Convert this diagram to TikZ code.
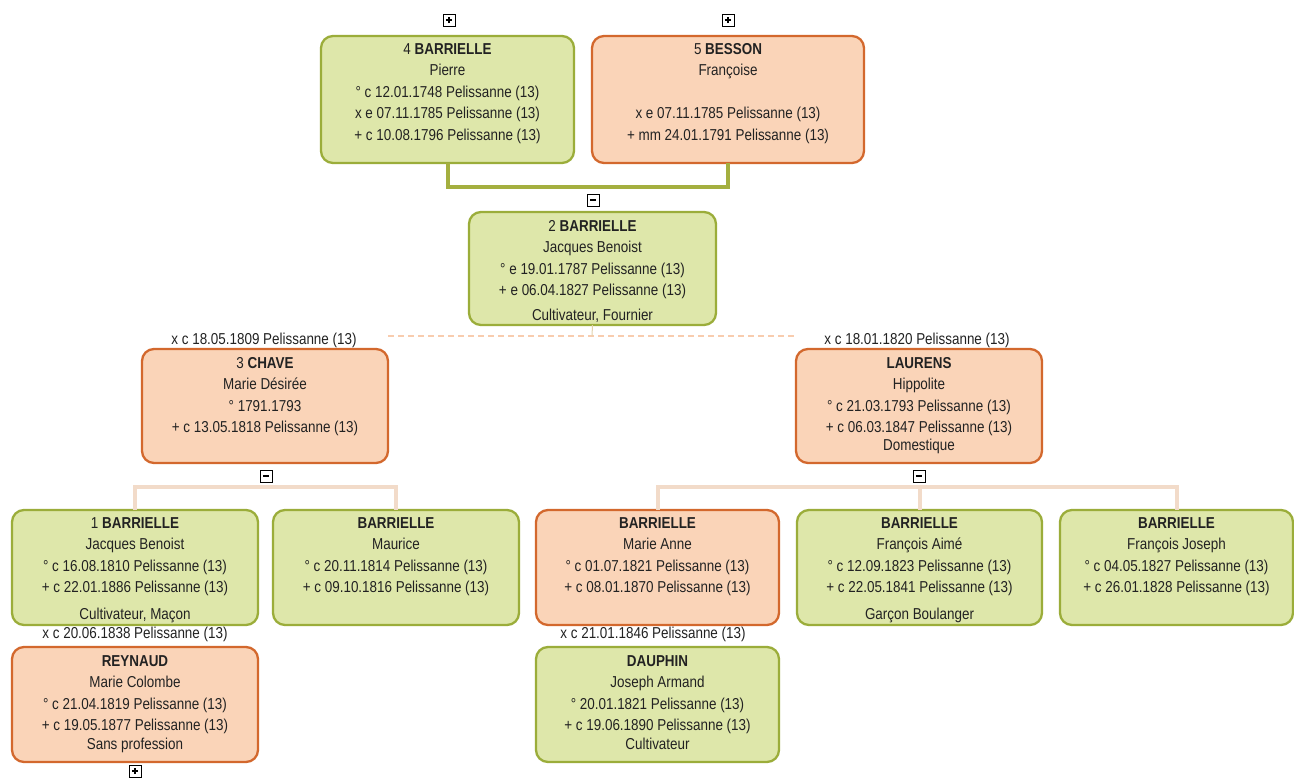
\documentclass[tikz,border=0pt]{standalone}
\usepackage{fontspec}
\setmainfont{Liberation Sans}[FakeStretch=0.85]
\definecolor{mfill}{HTML}{DEE7AA}
\definecolor{mdraw}{HTML}{9BAD3A}
\definecolor{ffill}{HTML}{FAD4B8}
\definecolor{fdraw}{HTML}{D3682D}
\definecolor{olive}{HTML}{A4AF3F}
\definecolor{tan}{HTML}{F2DBC9}
\definecolor{dashc}{HTML}{F8CCAE}
\definecolor{ink}{HTML}{222222}
\newcommand\pbox[6]{\node[#2, minimum width={#5-#3}, minimum height={#6-#4}] (#1) at ({(#3+#5)/2},{(#4+#6)/2}) {};}
\newcommand\fst{\rule{0pt}{12.5pt}}
\begin{document}
\begin{tikzpicture}[x=1pt,y=-1pt,
  every node/.style={inner sep=0pt, outer sep=0pt, text=ink},
  person/.style={rounded corners=12pt, line width=2.3pt},
  male/.style={person, draw=mdraw, fill=mfill},
  female/.style={person, draw=fdraw, fill=ffill},
  txt/.style={anchor=north, align=center, font=\fontsize{15.8}{21.5}\selectfont},
  lbl/.style={font=\fontsize{15.8}{18}\selectfont},
  icon/.style={draw=black, fill=white, line width=0.9pt, minimum size=12pt},
  iminus/.style={icon, path picture={\draw[line width=1.2pt] ([xshift=-3.2pt]path picture bounding box.center) -- ([xshift=3.2pt]path picture bounding box.center);}},
  iplus/.style={icon, path picture={\draw[line width=1.2pt] ([xshift=-3.2pt]path picture bounding box.center) -- ([xshift=3.2pt]path picture bounding box.center) ([yshift=-3.2pt]path picture bounding box.center) -- ([yshift=3.2pt]path picture bounding box.center);}},
  parentc/.style={draw=olive, line width=4pt},
  kidc/.style={draw=tan, line width=4pt},
  dashl/.style={draw=dashc, line width=2pt, dash pattern=on 6pt off 4pt},
  stemc/.style={draw=tan!80!olive, line width=1pt}]
\useasboundingbox[fill=white] (0,0) rectangle (1294,780);

% boxes
\pbox{b4}{male}{321}{36}{574}{163}
\pbox{b5}{female}{592}{36}{864}{163}
\pbox{b2}{male}{469}{212}{716}{325}
\pbox{b3}{female}{142}{349}{388}{463}
\pbox{bl}{female}{796}{349}{1042}{463}
\pbox{c1}{male}{12}{510}{258}{625}
\pbox{c2}{male}{273}{510}{519}{625}
\pbox{c3}{female}{536}{510}{779}{625}
\pbox{c4}{male}{797}{510}{1042}{625}
\pbox{c5}{male}{1060}{510}{1293}{625}
\pbox{r1}{female}{12}{647}{258}{762}
\pbox{r2}{male}{536}{647}{779}{762}

% coordinates
\coordinate (jn) at (592,187);
\coordinate (d1) at (388,336);
\coordinate (d2) at (795,336);
\coordinate (dm) at (592,336);

% connectors
\draw[parentc] (b4.south) |- (jn) -| (b5.south);
\draw[dashl] (d1) -- (d2);
\draw[stemc] (b2.south) -- (dm);
\draw[kidc] (c1.north) -- ++(0,-23) -| (c2.north);
\draw[kidc] (c3.north) -- ++(0,-23) -| (c5.north);
\draw[kidc] (c4.north) -- ++(0,-23);

% texts
\node[txt] (t4) at ([yshift=-5.5pt]b4.north) {\fst 4 \textbf{BARRIELLE}\\Pierre\\° c 12.01.1748 Pelissanne (13)\\x e 07.11.1785 Pelissanne (13)\\+ c 10.08.1796 Pelissanne (13)};
\node[txt] (t5) at ([yshift=-5.5pt]b5.north) {\fst 5 \textbf{BESSON}\\Françoise\\[21.5pt]x e 07.11.1785 Pelissanne (13)\\+ mm 24.01.1791 Pelissanne (13)};
\node[txt] (t2) at ([yshift=-6.5pt]b2.north) {\fst 2 \textbf{BARRIELLE}\\Jacques Benoist\\° e 19.01.1787 Pelissanne (13)\\+ e 06.04.1827 Pelissanne (13)\\[3pt]Cultivateur, Fournier};
\node[txt] (t3) at ([yshift=-6.5pt]b3.north) {\fst 3 \textbf{CHAVE}\\Marie Désirée\\° 1791.1793\\+ c 13.05.1818 Pelissanne (13)};
\node[txt] (tl) at ([yshift=-6.5pt]bl.north) {\fst \textbf{LAURENS}\\Hippolite\\° c 21.03.1793 Pelissanne (13)\\+ c 06.03.1847 Pelissanne (13)\\[-4pt]Domestique};
\node[txt] (tc1) at ([yshift=-5.5pt]c1.north) {\fst 1 \textbf{BARRIELLE}\\Jacques Benoist\\° c 16.08.1810 Pelissanne (13)\\+ c 22.01.1886 Pelissanne (13)\\[5pt]Cultivateur, Maçon};
\node[txt] (tc2) at ([yshift=-5.5pt]c2.north) {\fst \textbf{BARRIELLE}\\Maurice\\° c 20.11.1814 Pelissanne (13)\\+ c 09.10.1816 Pelissanne (13)};
\node[txt] (tc3) at ([yshift=-5.5pt]c3.north) {\fst \textbf{BARRIELLE}\\Marie Anne\\° c 01.07.1821 Pelissanne (13)\\+ c 08.01.1870 Pelissanne (13)};
\node[txt] (tc4) at ([yshift=-5.5pt]c4.north) {\fst \textbf{BARRIELLE}\\François Aimé\\° c 12.09.1823 Pelissanne (13)\\+ c 22.05.1841 Pelissanne (13)\\[5pt]Garçon Boulanger};
\node[txt] (tc5) at ([yshift=-5.5pt]c5.north) {\fst \textbf{BARRIELLE}\\François Joseph\\° c 04.05.1827 Pelissanne (13)\\+ c 26.01.1828 Pelissanne (13)};
\node[txt] (tr1) at ([yshift=-6.5pt]r1.north) {\fst \textbf{REYNAUD}\\Marie Colombe\\° c 21.04.1819 Pelissanne (13)\\+ c 19.05.1877 Pelissanne (13)\\[-3pt]Sans profession};
\node[txt] (tr2) at ([yshift=-6.5pt]r2.north) {\fst \textbf{DAUPHIN}\\Joseph Armand\\° 20.01.1821 Pelissanne (13)\\+ c 19.06.1890 Pelissanne (13)\\[-3pt]Cultivateur};

% marriage labels
\node[lbl] (m1) at (264,340) {x c 18.05.1809 Pelissanne (13)};
\node[lbl] (m2) at (917,340) {x c 18.01.1820 Pelissanne (13)};
\node[lbl] (m3) at (135,634) {x c 20.06.1838 Pelissanne (13)};
\node[lbl] (m4) at (653,634) {x c 21.01.1846 Pelissanne (13)};

% icons
\node[iplus] (i4) at (449,20) {};
\node[iplus] (i5) at (728,20) {};
\node[iminus] (i2) at (593,200) {};
\node[iminus] (i3) at (266,476) {};
\node[iminus] (il) at (919,476) {};
\node[iplus] (ir) at (135,771) {};
\end{tikzpicture}
\end{document}
